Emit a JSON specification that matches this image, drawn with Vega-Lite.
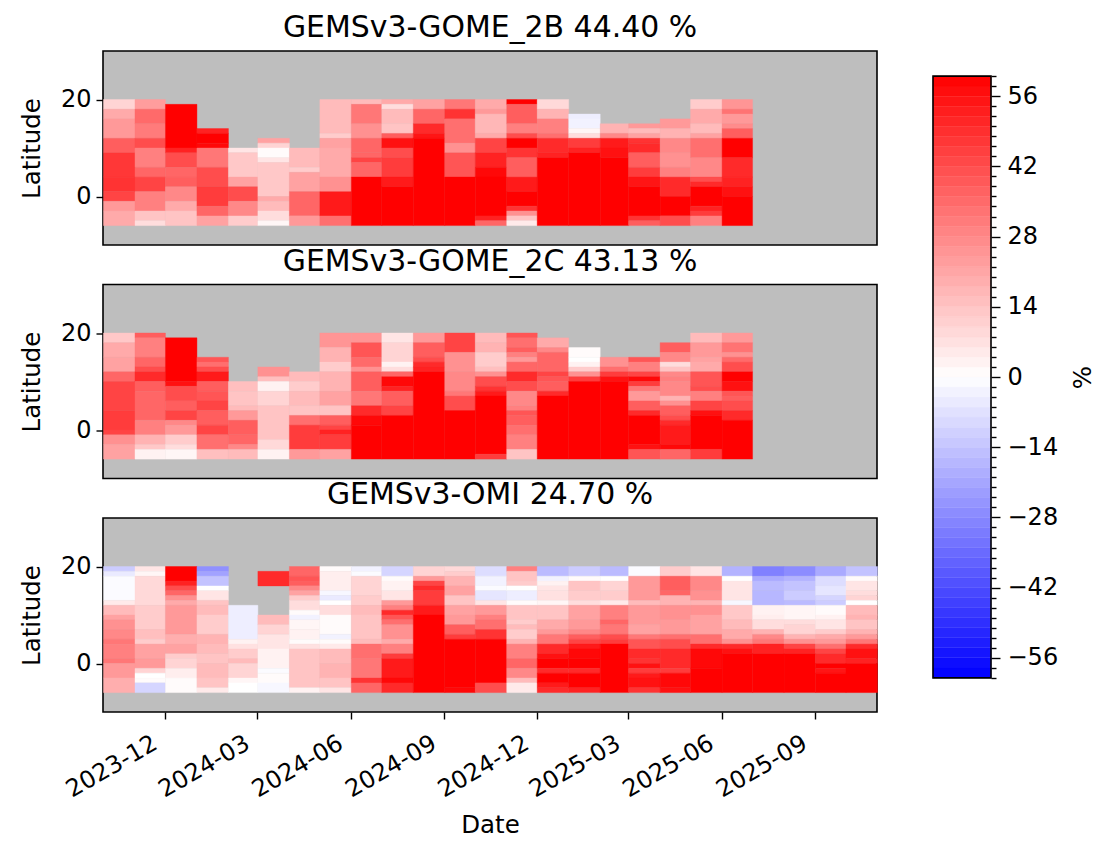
{"$schema":"https://vega.github.io/schema/vega-lite/v6.json","background":"white","padding":{"left":18,"top":12,"right":0,"bottom":0},
"config":{"font":"DejaVu Sans","view":{"fill":"#bebebe","stroke":"#000000","strokeWidth":1.6},"axis":{"grid":false,"domain":false,"labelFont":"DejaVu Sans","titleFont":"DejaVu Sans","labelFontSize":24,"titleFontSize":24.5,"titleFontWeight":"normal","tickColor":"#000","tickWidth":1.4,"tickSize":7,"labelColor":"#000","titleColor":"#000","labelPadding":5,"titlePadding":16},"title":{"font":"DejaVu Sans","fontSize":29.9,"fontWeight":"normal","color":"#000","offset":8}},
"datasets":{
"B":[
{"d":"2023-10","a":18,"b":20,"v":10},{"d":"2023-10","a":16,"b":18,"v":20},{"d":"2023-10","a":12,"b":16,"v":24},{"d":"2023-10","a":9,"b":12,"v":38},{"d":"2023-10","a":4,"b":9,"v":47},{"d":"2023-10","a":1,"b":4,"v":48},{"d":"2023-10","a":-1,"b":1,"v":44},{"d":"2023-10","a":-3,"b":-1,"v":24},{"d":"2023-10","a":-6,"b":-3,"v":20},
{"d":"2023-11","a":18,"b":20,"v":23},{"d":"2023-11","a":15,"b":18,"v":35},{"d":"2023-11","a":12,"b":15,"v":31},{"d":"2023-11","a":10,"b":12,"v":42},{"d":"2023-11","a":6,"b":10,"v":30},{"d":"2023-11","a":4,"b":6,"v":36},{"d":"2023-11","a":1,"b":4,"v":44},{"d":"2023-11","a":-3,"b":1,"v":30},{"d":"2023-11","a":-5,"b":-3,"v":14},{"d":"2023-11","a":-6,"b":-5,"v":8},
{"d":"2023-12","a":10,"b":19,"v":60},{"d":"2023-12","a":9,"b":10,"v":52},{"d":"2023-12","a":6,"b":9,"v":42},{"d":"2023-12","a":4,"b":6,"v":36},{"d":"2023-12","a":2,"b":4,"v":38},{"d":"2023-12","a":-1,"b":2,"v":28},{"d":"2023-12","a":-3,"b":-1,"v":20},{"d":"2023-12","a":-6,"b":-3,"v":14},
{"d":"2024-01","a":13,"b":14,"v":52},{"d":"2024-01","a":11,"b":13,"v":60},{"d":"2024-01","a":10,"b":11,"v":58},{"d":"2024-01","a":6,"b":10,"v":32},{"d":"2024-01","a":2,"b":6,"v":42},{"d":"2024-01","a":-2,"b":2,"v":46},{"d":"2024-01","a":-4,"b":-2,"v":36},{"d":"2024-01","a":-6,"b":-4,"v":22},
{"d":"2024-02","a":9,"b":10,"v":6},{"d":"2024-02","a":4,"b":9,"v":13},{"d":"2024-02","a":2,"b":4,"v":22},{"d":"2024-02","a":-1,"b":2,"v":42},{"d":"2024-02","a":-4,"b":-1,"v":28},{"d":"2024-02","a":-6,"b":-4,"v":12},
{"d":"2024-03","a":11,"b":12,"v":22},{"d":"2024-03","a":10,"b":11,"v":10},{"d":"2024-03","a":8,"b":10,"v":1},{"d":"2024-03","a":7,"b":8,"v":6},{"d":"2024-03","a":0,"b":7,"v":13},{"d":"2024-03","a":-1,"b":0,"v":20},{"d":"2024-03","a":-3,"b":-1,"v":16},{"d":"2024-03","a":-5,"b":-3,"v":8},{"d":"2024-03","a":-6,"b":-5,"v":2},
{"d":"2024-04","a":6,"b":10,"v":16},{"d":"2024-04","a":5,"b":6,"v":12},{"d":"2024-04","a":1,"b":5,"v":22},{"d":"2024-04","a":-4,"b":1,"v":36},{"d":"2024-04","a":-6,"b":-4,"v":24},
{"d":"2024-05","a":13,"b":20,"v":16},{"d":"2024-05","a":12,"b":13,"v":12},{"d":"2024-05","a":10,"b":12,"v":22},{"d":"2024-05","a":4,"b":10,"v":20},{"d":"2024-05","a":1,"b":4,"v":26},{"d":"2024-05","a":-4,"b":1,"v":54},{"d":"2024-05","a":-6,"b":-4,"v":34},
{"d":"2024-06","a":19,"b":20,"v":16},{"d":"2024-06","a":15,"b":19,"v":32},{"d":"2024-06","a":12,"b":15,"v":26},{"d":"2024-06","a":9,"b":12,"v":36},{"d":"2024-06","a":8,"b":9,"v":36},{"d":"2024-06","a":7,"b":8,"v":44},{"d":"2024-06","a":4,"b":7,"v":36},{"d":"2024-06","a":-6,"b":4,"v":60},
{"d":"2024-07","a":19,"b":20,"v":20},{"d":"2024-07","a":18,"b":19,"v":8},{"d":"2024-07","a":15,"b":18,"v":16},{"d":"2024-07","a":13,"b":15,"v":14},{"d":"2024-07","a":12,"b":13,"v":38},{"d":"2024-07","a":10,"b":12,"v":56},{"d":"2024-07","a":8,"b":10,"v":42},{"d":"2024-07","a":4,"b":8,"v":46},{"d":"2024-07","a":2,"b":4,"v":54},{"d":"2024-07","a":-6,"b":2,"v":60},
{"d":"2024-08","a":18,"b":20,"v":22},{"d":"2024-08","a":15,"b":18,"v":36},{"d":"2024-08","a":13,"b":15,"v":50},{"d":"2024-08","a":12,"b":13,"v":55},{"d":"2024-08","a":-6,"b":12,"v":60},
{"d":"2024-09","a":18,"b":20,"v":32},{"d":"2024-09","a":16,"b":18,"v":48},{"d":"2024-09","a":11,"b":16,"v":34},{"d":"2024-09","a":9,"b":11,"v":26},{"d":"2024-09","a":4,"b":9,"v":40},{"d":"2024-09","a":-6,"b":4,"v":60},
{"d":"2024-10","a":18,"b":20,"v":20},{"d":"2024-10","a":17,"b":18,"v":24},{"d":"2024-10","a":13,"b":17,"v":17},{"d":"2024-10","a":12,"b":13,"v":20},{"d":"2024-10","a":9,"b":12,"v":44},{"d":"2024-10","a":6,"b":9,"v":52},{"d":"2024-10","a":4,"b":6,"v":58},{"d":"2024-10","a":-4,"b":4,"v":60},{"d":"2024-10","a":-5,"b":-4,"v":52},{"d":"2024-10","a":-6,"b":-5,"v":36},
{"d":"2024-11","a":19,"b":20,"v":60},{"d":"2024-11","a":15,"b":19,"v":38},{"d":"2024-11","a":13,"b":15,"v":30},{"d":"2024-11","a":12,"b":13,"v":42},{"d":"2024-11","a":10,"b":12,"v":60},{"d":"2024-11","a":8,"b":10,"v":48},{"d":"2024-11","a":4,"b":8,"v":38},{"d":"2024-11","a":1,"b":4,"v":54},{"d":"2024-11","a":-2,"b":1,"v":60},{"d":"2024-11","a":-3,"b":-2,"v":48},{"d":"2024-11","a":-4,"b":-3,"v":26},{"d":"2024-11","a":-5,"b":-4,"v":14},{"d":"2024-11","a":-6,"b":-5,"v":5},
{"d":"2024-12","a":18,"b":20,"v":9},{"d":"2024-12","a":16,"b":18,"v":18},{"d":"2024-12","a":13,"b":16,"v":30},{"d":"2024-12","a":12,"b":13,"v":34},{"d":"2024-12","a":9,"b":12,"v":50},{"d":"2024-12","a":8,"b":9,"v":52},{"d":"2024-12","a":-6,"b":8,"v":60},
{"d":"2025-01","a":16,"b":17,"v":-4},{"d":"2025-01","a":14,"b":16,"v":-3},{"d":"2025-01","a":13,"b":14,"v":2},{"d":"2025-01","a":12,"b":13,"v":8},{"d":"2025-01","a":10,"b":12,"v":46},{"d":"2025-01","a":9,"b":10,"v":52},{"d":"2025-01","a":-6,"b":9,"v":60},
{"d":"2025-02","a":13,"b":15,"v":18},{"d":"2025-02","a":12,"b":13,"v":28},{"d":"2025-02","a":10,"b":12,"v":54},{"d":"2025-02","a":8,"b":10,"v":56},{"d":"2025-02","a":-6,"b":8,"v":60},
{"d":"2025-03","a":14,"b":15,"v":24},{"d":"2025-03","a":13,"b":14,"v":16},{"d":"2025-03","a":12,"b":13,"v":22},{"d":"2025-03","a":11,"b":12,"v":48},{"d":"2025-03","a":9,"b":11,"v":50},{"d":"2025-03","a":6,"b":9,"v":38},{"d":"2025-03","a":4,"b":6,"v":46},{"d":"2025-03","a":2,"b":4,"v":55},{"d":"2025-03","a":-4,"b":2,"v":60},{"d":"2025-03","a":-5,"b":-4,"v":48},{"d":"2025-03","a":-6,"b":-5,"v":38},
{"d":"2025-04","a":14,"b":16,"v":24},{"d":"2025-04","a":12,"b":14,"v":18},{"d":"2025-04","a":9,"b":12,"v":28},{"d":"2025-04","a":6,"b":9,"v":26},{"d":"2025-04","a":4,"b":6,"v":30},{"d":"2025-04","a":0,"b":4,"v":50},{"d":"2025-04","a":-4,"b":0,"v":60},{"d":"2025-04","a":-6,"b":-4,"v":42},
{"d":"2025-05","a":18,"b":20,"v":12},{"d":"2025-05","a":15,"b":18,"v":20},{"d":"2025-05","a":13,"b":15,"v":16},{"d":"2025-05","a":12,"b":13,"v":22},{"d":"2025-05","a":8,"b":12,"v":34},{"d":"2025-05","a":4,"b":8,"v":28},{"d":"2025-05","a":3,"b":4,"v":42},{"d":"2025-05","a":2,"b":3,"v":50},{"d":"2025-05","a":-2,"b":2,"v":60},{"d":"2025-05","a":-3,"b":-2,"v":52},{"d":"2025-05","a":-4,"b":-3,"v":46},{"d":"2025-05","a":-6,"b":-4,"v":30},
{"d":"2025-06","a":18,"b":20,"v":25},{"d":"2025-06","a":17,"b":18,"v":33},{"d":"2025-06","a":15,"b":17,"v":24},{"d":"2025-06","a":14,"b":15,"v":27},{"d":"2025-06","a":12,"b":14,"v":38},{"d":"2025-06","a":8,"b":12,"v":60},{"d":"2025-06","a":4,"b":8,"v":50},{"d":"2025-06","a":2,"b":4,"v":52},{"d":"2025-06","a":0,"b":2,"v":56},{"d":"2025-06","a":-6,"b":0,"v":60}],
"C":[
{"d":"2023-10","a":18,"b":20,"v":13},{"d":"2023-10","a":15,"b":18,"v":20},{"d":"2023-10","a":12,"b":15,"v":22},{"d":"2023-10","a":10,"b":12,"v":36},{"d":"2023-10","a":4,"b":10,"v":44},{"d":"2023-10","a":0,"b":4,"v":46},{"d":"2023-10","a":-1,"b":0,"v":44},{"d":"2023-10","a":-3,"b":-1,"v":26},{"d":"2023-10","a":-6,"b":-3,"v":22},
{"d":"2023-11","a":19,"b":20,"v":38},{"d":"2023-11","a":15,"b":19,"v":30},{"d":"2023-11","a":13,"b":15,"v":36},{"d":"2023-11","a":12,"b":13,"v":42},{"d":"2023-11","a":10,"b":12,"v":50},{"d":"2023-11","a":8,"b":10,"v":38},{"d":"2023-11","a":2,"b":8,"v":36},{"d":"2023-11","a":-1,"b":2,"v":30},{"d":"2023-11","a":-3,"b":-1,"v":18},{"d":"2023-11","a":-4,"b":-3,"v":13},{"d":"2023-11","a":-6,"b":-4,"v":3},
{"d":"2023-12","a":10,"b":19,"v":60},{"d":"2023-12","a":9,"b":10,"v":56},{"d":"2023-12","a":6,"b":9,"v":42},{"d":"2023-12","a":4,"b":6,"v":38},{"d":"2023-12","a":2,"b":4,"v":44},{"d":"2023-12","a":1,"b":2,"v":28},{"d":"2023-12","a":-1,"b":1,"v":24},{"d":"2023-12","a":-3,"b":-1,"v":12},{"d":"2023-12","a":-4,"b":-3,"v":8},{"d":"2023-12","a":-6,"b":-4,"v":2},
{"d":"2024-01","a":14,"b":15,"v":40},{"d":"2024-01","a":13,"b":14,"v":34},{"d":"2024-01","a":12,"b":13,"v":42},{"d":"2024-01","a":10,"b":12,"v":54},{"d":"2024-01","a":8,"b":10,"v":38},{"d":"2024-01","a":6,"b":8,"v":40},{"d":"2024-01","a":4,"b":6,"v":44},{"d":"2024-01","a":1,"b":4,"v":38},{"d":"2024-01","a":-1,"b":1,"v":44},{"d":"2024-01","a":-4,"b":-1,"v":34},{"d":"2024-01","a":-6,"b":-4,"v":15},
{"d":"2024-02","a":8,"b":10,"v":15},{"d":"2024-02","a":5,"b":8,"v":14},{"d":"2024-02","a":4,"b":5,"v":16},{"d":"2024-02","a":2,"b":4,"v":24},{"d":"2024-02","a":-1,"b":2,"v":38},{"d":"2024-02","a":-3,"b":-1,"v":36},{"d":"2024-02","a":-4,"b":-3,"v":28},{"d":"2024-02","a":-6,"b":-4,"v":16},
{"d":"2024-03","a":11,"b":13,"v":26},{"d":"2024-03","a":10,"b":11,"v":15},{"d":"2024-03","a":8,"b":10,"v":3},{"d":"2024-03","a":5,"b":8,"v":10},{"d":"2024-03","a":-2,"b":5,"v":14},{"d":"2024-03","a":-4,"b":-2,"v":9},{"d":"2024-03","a":-6,"b":-4,"v":3},
{"d":"2024-04","a":10,"b":12,"v":16},{"d":"2024-04","a":8,"b":10,"v":12},{"d":"2024-04","a":5,"b":8,"v":16},{"d":"2024-04","a":3,"b":5,"v":14},{"d":"2024-04","a":1,"b":3,"v":34},{"d":"2024-04","a":-4,"b":1,"v":46},{"d":"2024-04","a":-6,"b":-4,"v":24},
{"d":"2024-05","a":17,"b":20,"v":25},{"d":"2024-05","a":14,"b":17,"v":18},{"d":"2024-05","a":12,"b":14,"v":12},{"d":"2024-05","a":8,"b":12,"v":18},{"d":"2024-05","a":5,"b":8,"v":22},{"d":"2024-05","a":3,"b":5,"v":14},{"d":"2024-05","a":1,"b":3,"v":38},{"d":"2024-05","a":0,"b":1,"v":44},{"d":"2024-05","a":-1,"b":0,"v":52},{"d":"2024-05","a":-4,"b":-1,"v":46},{"d":"2024-05","a":-6,"b":-4,"v":22},
{"d":"2024-06","a":18,"b":20,"v":25},{"d":"2024-06","a":15,"b":18,"v":40},{"d":"2024-06","a":13,"b":15,"v":35},{"d":"2024-06","a":12,"b":13,"v":26},{"d":"2024-06","a":8,"b":12,"v":38},{"d":"2024-06","a":5,"b":8,"v":32},{"d":"2024-06","a":3,"b":5,"v":50},{"d":"2024-06","a":1,"b":3,"v":58},{"d":"2024-06","a":-6,"b":1,"v":60},
{"d":"2024-07","a":18,"b":20,"v":6},{"d":"2024-07","a":14,"b":18,"v":10},{"d":"2024-07","a":13,"b":14,"v":3},{"d":"2024-07","a":12,"b":13,"v":8},{"d":"2024-07","a":11,"b":12,"v":36},{"d":"2024-07","a":9,"b":11,"v":58},{"d":"2024-07","a":8,"b":9,"v":52},{"d":"2024-07","a":5,"b":8,"v":38},{"d":"2024-07","a":3,"b":5,"v":44},{"d":"2024-07","a":-6,"b":3,"v":60},
{"d":"2024-08","a":18,"b":20,"v":24},{"d":"2024-08","a":15,"b":18,"v":38},{"d":"2024-08","a":14,"b":15,"v":42},{"d":"2024-08","a":13,"b":14,"v":50},{"d":"2024-08","a":12,"b":13,"v":52},{"d":"2024-08","a":-6,"b":12,"v":60},
{"d":"2024-09","a":16,"b":20,"v":44},{"d":"2024-09","a":12,"b":16,"v":26},{"d":"2024-09","a":8,"b":12,"v":28},{"d":"2024-09","a":7,"b":8,"v":32},{"d":"2024-09","a":4,"b":7,"v":42},{"d":"2024-09","a":-6,"b":4,"v":60},
{"d":"2024-10","a":18,"b":20,"v":16},{"d":"2024-10","a":16,"b":18,"v":18},{"d":"2024-10","a":13,"b":16,"v":12},{"d":"2024-10","a":12,"b":13,"v":15},{"d":"2024-10","a":11,"b":12,"v":26},{"d":"2024-10","a":9,"b":11,"v":42},{"d":"2024-10","a":8,"b":9,"v":48},{"d":"2024-10","a":7,"b":8,"v":54},{"d":"2024-10","a":-5,"b":7,"v":60},{"d":"2024-10","a":-6,"b":-5,"v":46},
{"d":"2024-11","a":19,"b":20,"v":40},{"d":"2024-11","a":17,"b":19,"v":34},{"d":"2024-11","a":16,"b":17,"v":38},{"d":"2024-11","a":15,"b":16,"v":30},{"d":"2024-11","a":14,"b":15,"v":24},{"d":"2024-11","a":12,"b":14,"v":36},{"d":"2024-11","a":10,"b":12,"v":50},{"d":"2024-11","a":8,"b":10,"v":42},{"d":"2024-11","a":5,"b":8,"v":28},{"d":"2024-11","a":4,"b":5,"v":30},{"d":"2024-11","a":3,"b":4,"v":40},{"d":"2024-11","a":1,"b":3,"v":38},{"d":"2024-11","a":-1,"b":1,"v":34},{"d":"2024-11","a":-4,"b":-1,"v":30},{"d":"2024-11","a":-6,"b":-4,"v":14},
{"d":"2024-12","a":17,"b":19,"v":20},{"d":"2024-12","a":16,"b":17,"v":28},{"d":"2024-12","a":12,"b":16,"v":36},{"d":"2024-12","a":11,"b":12,"v":44},{"d":"2024-12","a":10,"b":11,"v":40},{"d":"2024-12","a":8,"b":10,"v":38},{"d":"2024-12","a":7,"b":8,"v":50},{"d":"2024-12","a":-6,"b":7,"v":60},
{"d":"2025-01","a":15,"b":17,"v":1},{"d":"2025-01","a":14,"b":15,"v":0},{"d":"2025-01","a":13,"b":14,"v":3},{"d":"2025-01","a":12,"b":13,"v":12},{"d":"2025-01","a":11,"b":12,"v":26},{"d":"2025-01","a":10,"b":11,"v":46},{"d":"2025-01","a":-6,"b":10,"v":60},
{"d":"2025-02","a":13,"b":15,"v":26},{"d":"2025-02","a":12,"b":13,"v":34},{"d":"2025-02","a":11,"b":12,"v":46},{"d":"2025-02","a":10,"b":11,"v":56},{"d":"2025-02","a":-6,"b":10,"v":60},
{"d":"2025-03","a":14,"b":15,"v":40},{"d":"2025-03","a":12,"b":14,"v":30},{"d":"2025-03","a":11,"b":12,"v":44},{"d":"2025-03","a":10,"b":11,"v":58},{"d":"2025-03","a":9,"b":10,"v":46},{"d":"2025-03","a":8,"b":9,"v":32},{"d":"2025-03","a":6,"b":8,"v":24},{"d":"2025-03","a":4,"b":6,"v":38},{"d":"2025-03","a":3,"b":4,"v":50},{"d":"2025-03","a":-3,"b":3,"v":60},{"d":"2025-03","a":-4,"b":-3,"v":56},{"d":"2025-03","a":-6,"b":-4,"v":40},
{"d":"2025-04","a":16,"b":18,"v":38},{"d":"2025-04","a":14,"b":16,"v":28},{"d":"2025-04","a":13,"b":14,"v":8},{"d":"2025-04","a":12,"b":13,"v":14},{"d":"2025-04","a":11,"b":12,"v":28},{"d":"2025-04","a":10,"b":11,"v":30},{"d":"2025-04","a":7,"b":10,"v":28},{"d":"2025-04","a":6,"b":7,"v":18},{"d":"2025-04","a":5,"b":6,"v":26},{"d":"2025-04","a":3,"b":5,"v":38},{"d":"2025-04","a":2,"b":3,"v":42},{"d":"2025-04","a":1,"b":2,"v":50},{"d":"2025-04","a":-3,"b":1,"v":54},{"d":"2025-04","a":-4,"b":-3,"v":58},{"d":"2025-04","a":-6,"b":-4,"v":36},
{"d":"2025-05","a":18,"b":20,"v":16},{"d":"2025-05","a":15,"b":18,"v":24},{"d":"2025-05","a":14,"b":15,"v":22},{"d":"2025-05","a":12,"b":14,"v":20},{"d":"2025-05","a":9,"b":12,"v":40},{"d":"2025-05","a":8,"b":9,"v":42},{"d":"2025-05","a":6,"b":8,"v":30},{"d":"2025-05","a":4,"b":6,"v":44},{"d":"2025-05","a":3,"b":4,"v":56},{"d":"2025-05","a":-4,"b":3,"v":60},{"d":"2025-05","a":-6,"b":-4,"v":46},
{"d":"2025-06","a":18,"b":20,"v":24},{"d":"2025-06","a":16,"b":18,"v":33},{"d":"2025-06","a":15,"b":16,"v":26},{"d":"2025-06","a":14,"b":15,"v":35},{"d":"2025-06","a":12,"b":14,"v":42},{"d":"2025-06","a":10,"b":12,"v":60},{"d":"2025-06","a":8,"b":10,"v":56},{"d":"2025-06","a":7,"b":8,"v":40},{"d":"2025-06","a":6,"b":7,"v":38},{"d":"2025-06","a":4,"b":6,"v":42},{"d":"2025-06","a":2,"b":4,"v":50},{"d":"2025-06","a":-6,"b":2,"v":60}],
"O":[
{"d":"2023-10","a":19,"b":20,"v":-12},{"d":"2023-10","a":18,"b":19,"v":-5},{"d":"2023-10","a":13,"b":18,"v":-1},{"d":"2023-10","a":12,"b":13,"v":5},{"d":"2023-10","a":10,"b":12,"v":16},{"d":"2023-10","a":9,"b":10,"v":22},{"d":"2023-10","a":7,"b":9,"v":26},{"d":"2023-10","a":5,"b":7,"v":28},{"d":"2023-10","a":4,"b":5,"v":32},{"d":"2023-10","a":1,"b":4,"v":30},{"d":"2023-10","a":0,"b":1,"v":32},{"d":"2023-10","a":-3,"b":0,"v":24},{"d":"2023-10","a":-6,"b":-3,"v":19},
{"d":"2023-11","a":19,"b":20,"v":6},{"d":"2023-11","a":18,"b":19,"v":2},{"d":"2023-11","a":12,"b":18,"v":9},{"d":"2023-11","a":7,"b":12,"v":12},{"d":"2023-11","a":5,"b":7,"v":15},{"d":"2023-11","a":4,"b":5,"v":12},{"d":"2023-11","a":1,"b":4,"v":22},{"d":"2023-11","a":-1,"b":1,"v":24},{"d":"2023-11","a":-2,"b":-1,"v":10},{"d":"2023-11","a":-3,"b":-2,"v":0},{"d":"2023-11","a":-4,"b":-3,"v":1},{"d":"2023-11","a":-6,"b":-4,"v":-10},
{"d":"2023-12","a":17,"b":20,"v":60},{"d":"2023-12","a":16,"b":17,"v":52},{"d":"2023-12","a":15,"b":16,"v":42},{"d":"2023-12","a":14,"b":15,"v":36},{"d":"2023-12","a":13,"b":14,"v":26},{"d":"2023-12","a":12,"b":13,"v":20},{"d":"2023-12","a":6,"b":12,"v":24},{"d":"2023-12","a":4,"b":6,"v":19},{"d":"2023-12","a":2,"b":4,"v":22},{"d":"2023-12","a":1,"b":2,"v":12},{"d":"2023-12","a":-1,"b":1,"v":10},{"d":"2023-12","a":-3,"b":-1,"v":4},{"d":"2023-12","a":-6,"b":-3,"v":1},
{"d":"2024-01","a":19,"b":20,"v":-26},{"d":"2024-01","a":18,"b":19,"v":-22},{"d":"2024-01","a":16,"b":18,"v":-14},{"d":"2024-01","a":15,"b":16,"v":0},{"d":"2024-01","a":13,"b":15,"v":6},{"d":"2024-01","a":12,"b":13,"v":14},{"d":"2024-01","a":10,"b":12,"v":16},{"d":"2024-01","a":6,"b":10,"v":12},{"d":"2024-01","a":4,"b":6,"v":18},{"d":"2024-01","a":2,"b":4,"v":16},{"d":"2024-01","a":0,"b":2,"v":14},{"d":"2024-01","a":-3,"b":0,"v":16},{"d":"2024-01","a":-5,"b":-3,"v":14},{"d":"2024-01","a":-6,"b":-5,"v":5},
{"d":"2024-02","a":5,"b":12,"v":-4},{"d":"2024-02","a":4,"b":5,"v":3},{"d":"2024-02","a":3,"b":4,"v":7},{"d":"2024-02","a":1,"b":3,"v":12},{"d":"2024-02","a":0,"b":1,"v":16},{"d":"2024-02","a":-3,"b":0,"v":10},{"d":"2024-02","a":-4,"b":-3,"v":2},{"d":"2024-02","a":-6,"b":-4,"v":0},
{"d":"2024-03","a":16,"b":19,"v":50},{"d":"2024-03","a":8,"b":10,"v":16},{"d":"2024-03","a":6,"b":8,"v":10},{"d":"2024-03","a":3,"b":6,"v":6},{"d":"2024-03","a":-1,"b":3,"v":3},{"d":"2024-03","a":-2,"b":-1,"v":-1},{"d":"2024-03","a":-4,"b":-2,"v":1},{"d":"2024-03","a":-6,"b":-4,"v":-2},
{"d":"2024-04","a":18,"b":20,"v":36},{"d":"2024-04","a":17,"b":18,"v":40},{"d":"2024-04","a":16,"b":17,"v":38},{"d":"2024-04","a":15,"b":16,"v":28},{"d":"2024-04","a":14,"b":15,"v":22},{"d":"2024-04","a":13,"b":14,"v":12},{"d":"2024-04","a":11,"b":13,"v":8},{"d":"2024-04","a":10,"b":11,"v":1},{"d":"2024-04","a":9,"b":10,"v":-3},{"d":"2024-04","a":7,"b":9,"v":2},{"d":"2024-04","a":5,"b":7,"v":3},{"d":"2024-04","a":4,"b":5,"v":1},{"d":"2024-04","a":3,"b":4,"v":7},{"d":"2024-04","a":-5,"b":3,"v":14},{"d":"2024-04","a":-6,"b":-5,"v":3},
{"d":"2024-05","a":19,"b":20,"v":1},{"d":"2024-05","a":15,"b":19,"v":4},{"d":"2024-05","a":14,"b":15,"v":-2},{"d":"2024-05","a":13,"b":14,"v":-5},{"d":"2024-05","a":12,"b":13,"v":0},{"d":"2024-05","a":10,"b":12,"v":8},{"d":"2024-05","a":6,"b":10,"v":1},{"d":"2024-05","a":5,"b":6,"v":-3},{"d":"2024-05","a":4,"b":5,"v":1},{"d":"2024-05","a":3,"b":4,"v":5},{"d":"2024-05","a":0,"b":3,"v":16},{"d":"2024-05","a":-3,"b":0,"v":18},{"d":"2024-05","a":-5,"b":-3,"v":14},{"d":"2024-05","a":-6,"b":-5,"v":6},
{"d":"2024-06","a":19,"b":20,"v":-3},{"d":"2024-06","a":18,"b":19,"v":-1},{"d":"2024-06","a":14,"b":18,"v":10},{"d":"2024-06","a":12,"b":14,"v":12},{"d":"2024-06","a":10,"b":12,"v":16},{"d":"2024-06","a":5,"b":10,"v":14},{"d":"2024-06","a":4,"b":5,"v":16},{"d":"2024-06","a":1,"b":4,"v":34},{"d":"2024-06","a":-3,"b":1,"v":32},{"d":"2024-06","a":-4,"b":-3,"v":48},{"d":"2024-06","a":-6,"b":-4,"v":36},
{"d":"2024-07","a":18,"b":20,"v":-10},{"d":"2024-07","a":17,"b":18,"v":1},{"d":"2024-07","a":15,"b":17,"v":3},{"d":"2024-07","a":13,"b":15,"v":6},{"d":"2024-07","a":12,"b":13,"v":24},{"d":"2024-07","a":11,"b":12,"v":30},{"d":"2024-07","a":10,"b":11,"v":50},{"d":"2024-07","a":9,"b":10,"v":40},{"d":"2024-07","a":8,"b":9,"v":34},{"d":"2024-07","a":5,"b":8,"v":26},{"d":"2024-07","a":4,"b":5,"v":20},{"d":"2024-07","a":2,"b":4,"v":30},{"d":"2024-07","a":1,"b":2,"v":46},{"d":"2024-07","a":-3,"b":1,"v":54},{"d":"2024-07","a":-4,"b":-3,"v":58},{"d":"2024-07","a":-6,"b":-4,"v":50},
{"d":"2024-08","a":18,"b":20,"v":10},{"d":"2024-08","a":17,"b":18,"v":24},{"d":"2024-08","a":16,"b":17,"v":44},{"d":"2024-08","a":15,"b":16,"v":50},{"d":"2024-08","a":12,"b":15,"v":46},{"d":"2024-08","a":10,"b":12,"v":54},{"d":"2024-08","a":-6,"b":10,"v":60},
{"d":"2024-09","a":19,"b":20,"v":9},{"d":"2024-09","a":18,"b":19,"v":12},{"d":"2024-09","a":16,"b":18,"v":18},{"d":"2024-09","a":14,"b":16,"v":22},{"d":"2024-09","a":12,"b":14,"v":14},{"d":"2024-09","a":10,"b":12,"v":22},{"d":"2024-09","a":8,"b":10,"v":24},{"d":"2024-09","a":6,"b":8,"v":38},{"d":"2024-09","a":5,"b":6,"v":46},{"d":"2024-09","a":-5,"b":5,"v":60},{"d":"2024-09","a":-6,"b":-5,"v":58},
{"d":"2024-10","a":18,"b":20,"v":-8},{"d":"2024-10","a":16,"b":18,"v":-3},{"d":"2024-10","a":15,"b":16,"v":-1},{"d":"2024-10","a":13,"b":15,"v":-6},{"d":"2024-10","a":12,"b":13,"v":6},{"d":"2024-10","a":10,"b":12,"v":24},{"d":"2024-10","a":9,"b":10,"v":30},{"d":"2024-10","a":7,"b":9,"v":34},{"d":"2024-10","a":5,"b":7,"v":48},{"d":"2024-10","a":-4,"b":5,"v":60},{"d":"2024-10","a":-6,"b":-4,"v":42},
{"d":"2024-11","a":19,"b":20,"v":30},{"d":"2024-11","a":17,"b":19,"v":14},{"d":"2024-11","a":16,"b":17,"v":12},{"d":"2024-11","a":15,"b":16,"v":0},{"d":"2024-11","a":13,"b":15,"v":-4},{"d":"2024-11","a":12,"b":13,"v":1},{"d":"2024-11","a":9,"b":12,"v":14},{"d":"2024-11","a":8,"b":9,"v":12},{"d":"2024-11","a":7,"b":8,"v":16},{"d":"2024-11","a":5,"b":7,"v":12},{"d":"2024-11","a":4,"b":5,"v":18},{"d":"2024-11","a":1,"b":4,"v":30},{"d":"2024-11","a":-1,"b":1,"v":36},{"d":"2024-11","a":-3,"b":-1,"v":28},{"d":"2024-11","a":-4,"b":-3,"v":16},{"d":"2024-11","a":-6,"b":-4,"v":5},
{"d":"2024-12","a":18,"b":20,"v":-16},{"d":"2024-12","a":17,"b":18,"v":-3},{"d":"2024-12","a":16,"b":17,"v":3},{"d":"2024-12","a":15,"b":16,"v":6},{"d":"2024-12","a":13,"b":15,"v":7},{"d":"2024-12","a":12,"b":13,"v":2},{"d":"2024-12","a":9,"b":12,"v":14},{"d":"2024-12","a":7,"b":9,"v":20},{"d":"2024-12","a":6,"b":7,"v":24},{"d":"2024-12","a":4,"b":6,"v":32},{"d":"2024-12","a":2,"b":4,"v":50},{"d":"2024-12","a":1,"b":2,"v":56},{"d":"2024-12","a":-1,"b":1,"v":60},{"d":"2024-12","a":-2,"b":-1,"v":50},{"d":"2024-12","a":-4,"b":-2,"v":60},{"d":"2024-12","a":-5,"b":-4,"v":54},{"d":"2024-12","a":-6,"b":-5,"v":50},
{"d":"2025-01","a":18,"b":20,"v":-12},{"d":"2025-01","a":17,"b":18,"v":1},{"d":"2025-01","a":15,"b":17,"v":14},{"d":"2025-01","a":13,"b":15,"v":12},{"d":"2025-01","a":12,"b":13,"v":8},{"d":"2025-01","a":9,"b":12,"v":22},{"d":"2025-01","a":7,"b":9,"v":24},{"d":"2025-01","a":6,"b":7,"v":28},{"d":"2025-01","a":5,"b":6,"v":38},{"d":"2025-01","a":4,"b":5,"v":44},{"d":"2025-01","a":3,"b":4,"v":54},{"d":"2025-01","a":1,"b":3,"v":58},{"d":"2025-01","a":-1,"b":1,"v":60},{"d":"2025-01","a":-2,"b":-1,"v":50},{"d":"2025-01","a":-5,"b":-2,"v":60},{"d":"2025-01","a":-6,"b":-5,"v":52},
{"d":"2025-02","a":18,"b":20,"v":-16},{"d":"2025-02","a":17,"b":18,"v":0},{"d":"2025-02","a":15,"b":17,"v":10},{"d":"2025-02","a":13,"b":15,"v":12},{"d":"2025-02","a":12,"b":13,"v":5},{"d":"2025-02","a":9,"b":12,"v":30},{"d":"2025-02","a":8,"b":9,"v":36},{"d":"2025-02","a":6,"b":8,"v":32},{"d":"2025-02","a":5,"b":6,"v":42},{"d":"2025-02","a":4,"b":5,"v":46},{"d":"2025-02","a":-6,"b":4,"v":60},
{"d":"2025-03","a":18,"b":20,"v":-1},{"d":"2025-03","a":13,"b":18,"v":24},{"d":"2025-03","a":12,"b":13,"v":16},{"d":"2025-03","a":8,"b":12,"v":24},{"d":"2025-03","a":6,"b":8,"v":22},{"d":"2025-03","a":5,"b":6,"v":32},{"d":"2025-03","a":3,"b":5,"v":40},{"d":"2025-03","a":1,"b":3,"v":50},{"d":"2025-03","a":0,"b":1,"v":48},{"d":"2025-03","a":-1,"b":0,"v":56},{"d":"2025-03","a":-2,"b":-1,"v":46},{"d":"2025-03","a":-3,"b":-2,"v":54},{"d":"2025-03","a":-5,"b":-3,"v":56},{"d":"2025-03","a":-6,"b":-5,"v":48},
{"d":"2025-04","a":18,"b":20,"v":12},{"d":"2025-04","a":15,"b":18,"v":38},{"d":"2025-04","a":14,"b":15,"v":36},{"d":"2025-04","a":12,"b":14,"v":18},{"d":"2025-04","a":9,"b":12,"v":26},{"d":"2025-04","a":6,"b":9,"v":24},{"d":"2025-04","a":5,"b":6,"v":34},{"d":"2025-04","a":3,"b":5,"v":42},{"d":"2025-04","a":-1,"b":3,"v":50},{"d":"2025-04","a":-2,"b":-1,"v":46},{"d":"2025-04","a":-5,"b":-2,"v":58},{"d":"2025-04","a":-6,"b":-5,"v":56},
{"d":"2025-05","a":18,"b":20,"v":6},{"d":"2025-05","a":15,"b":18,"v":28},{"d":"2025-05","a":13,"b":15,"v":26},{"d":"2025-05","a":12,"b":13,"v":18},{"d":"2025-05","a":10,"b":12,"v":26},{"d":"2025-05","a":6,"b":10,"v":22},{"d":"2025-05","a":4,"b":6,"v":34},{"d":"2025-05","a":3,"b":4,"v":50},{"d":"2025-05","a":-1,"b":3,"v":58},{"d":"2025-05","a":-6,"b":-1,"v":60},
{"d":"2025-06","a":18,"b":20,"v":-18},{"d":"2025-06","a":17,"b":18,"v":0},{"d":"2025-06","a":13,"b":17,"v":6},{"d":"2025-06","a":12,"b":13,"v":-2},{"d":"2025-06","a":9,"b":12,"v":13},{"d":"2025-06","a":7,"b":9,"v":16},{"d":"2025-06","a":5,"b":7,"v":20},{"d":"2025-06","a":4,"b":5,"v":26},{"d":"2025-06","a":3,"b":4,"v":50},{"d":"2025-06","a":2,"b":3,"v":56},{"d":"2025-06","a":-6,"b":2,"v":60},
{"d":"2025-07","a":18,"b":20,"v":-30},{"d":"2025-07","a":17,"b":18,"v":-20},{"d":"2025-07","a":15,"b":17,"v":-16},{"d":"2025-07","a":12,"b":15,"v":-17},{"d":"2025-07","a":10,"b":12,"v":3},{"d":"2025-07","a":9,"b":10,"v":4},{"d":"2025-07","a":7,"b":9,"v":8},{"d":"2025-07","a":6,"b":7,"v":18},{"d":"2025-07","a":5,"b":6,"v":28},{"d":"2025-07","a":4,"b":5,"v":32},{"d":"2025-07","a":2,"b":4,"v":52},{"d":"2025-07","a":-6,"b":2,"v":60},
{"d":"2025-08","a":18,"b":20,"v":-27},{"d":"2025-08","a":17,"b":18,"v":-18},{"d":"2025-08","a":15,"b":17,"v":-14},{"d":"2025-08","a":13,"b":15,"v":-12},{"d":"2025-08","a":12,"b":13,"v":-16},{"d":"2025-08","a":9,"b":12,"v":2},{"d":"2025-08","a":8,"b":9,"v":8},{"d":"2025-08","a":6,"b":8,"v":10},{"d":"2025-08","a":5,"b":6,"v":18},{"d":"2025-08","a":4,"b":5,"v":26},{"d":"2025-08","a":3,"b":4,"v":44},{"d":"2025-08","a":2,"b":3,"v":52},{"d":"2025-08","a":-6,"b":2,"v":60},
{"d":"2025-09","a":18,"b":20,"v":-20},{"d":"2025-09","a":16,"b":18,"v":-8},{"d":"2025-09","a":14,"b":16,"v":-6},{"d":"2025-09","a":13,"b":14,"v":-10},{"d":"2025-09","a":12,"b":13,"v":-12},{"d":"2025-09","a":10,"b":12,"v":1},{"d":"2025-09","a":9,"b":10,"v":3},{"d":"2025-09","a":7,"b":9,"v":6},{"d":"2025-09","a":6,"b":7,"v":12},{"d":"2025-09","a":5,"b":6,"v":20},{"d":"2025-09","a":4,"b":5,"v":24},{"d":"2025-09","a":3,"b":4,"v":34},{"d":"2025-09","a":2,"b":3,"v":44},{"d":"2025-09","a":0,"b":2,"v":50},{"d":"2025-09","a":-1,"b":0,"v":60},{"d":"2025-09","a":-2,"b":-1,"v":55},{"d":"2025-09","a":-6,"b":-2,"v":60},
{"d":"2025-10","a":18,"b":20,"v":-14},{"d":"2025-10","a":17,"b":18,"v":1},{"d":"2025-10","a":15,"b":17,"v":6},{"d":"2025-10","a":14,"b":15,"v":8},{"d":"2025-10","a":13,"b":14,"v":10},{"d":"2025-10","a":12,"b":13,"v":0},{"d":"2025-10","a":10,"b":12,"v":16},{"d":"2025-10","a":9,"b":10,"v":18},{"d":"2025-10","a":7,"b":9,"v":14},{"d":"2025-10","a":6,"b":7,"v":18},{"d":"2025-10","a":5,"b":6,"v":24},{"d":"2025-10","a":4,"b":5,"v":32},{"d":"2025-10","a":3,"b":4,"v":50},{"d":"2025-10","a":1,"b":3,"v":56},{"d":"2025-10","a":0,"b":1,"v":52},{"d":"2025-10","a":-6,"b":0,"v":60}],
"bar":[{"a":-60,"b":-58,"v":-59},{"a":-58,"b":-56,"v":-57},{"a":-56,"b":-54,"v":-55},{"a":-54,"b":-52,"v":-53},{"a":-52,"b":-50,"v":-51},{"a":-50,"b":-48,"v":-49},{"a":-48,"b":-46,"v":-47},{"a":-46,"b":-44,"v":-45},{"a":-44,"b":-42,"v":-43},{"a":-42,"b":-40,"v":-41},{"a":-40,"b":-38,"v":-39},{"a":-38,"b":-36,"v":-37},{"a":-36,"b":-34,"v":-35},{"a":-34,"b":-32,"v":-33},{"a":-32,"b":-30,"v":-31},{"a":-30,"b":-28,"v":-29},{"a":-28,"b":-26,"v":-27},{"a":-26,"b":-24,"v":-25},{"a":-24,"b":-22,"v":-23},{"a":-22,"b":-20,"v":-21},{"a":-20,"b":-18,"v":-19},{"a":-18,"b":-16,"v":-17},{"a":-16,"b":-14,"v":-15},{"a":-14,"b":-12,"v":-13},{"a":-12,"b":-10,"v":-11},{"a":-10,"b":-8,"v":-9},{"a":-8,"b":-6,"v":-7},{"a":-6,"b":-4,"v":-5},{"a":-4,"b":-2,"v":-3},{"a":-2,"b":0,"v":-1},{"a":0,"b":2,"v":1},{"a":2,"b":4,"v":3},{"a":4,"b":6,"v":5},{"a":6,"b":8,"v":7},{"a":8,"b":10,"v":9},{"a":10,"b":12,"v":11},{"a":12,"b":14,"v":13},{"a":14,"b":16,"v":15},{"a":16,"b":18,"v":17},{"a":18,"b":20,"v":19},{"a":20,"b":22,"v":21},{"a":22,"b":24,"v":23},{"a":24,"b":26,"v":25},{"a":26,"b":28,"v":27},{"a":28,"b":30,"v":29},{"a":30,"b":32,"v":31},{"a":32,"b":34,"v":33},{"a":34,"b":36,"v":35},{"a":36,"b":38,"v":37},{"a":38,"b":40,"v":39},{"a":40,"b":42,"v":41},{"a":42,"b":44,"v":43},{"a":44,"b":46,"v":45},{"a":46,"b":48,"v":47},{"a":48,"b":50,"v":49},{"a":50,"b":52,"v":51},{"a":52,"b":54,"v":53},{"a":54,"b":56,"v":55},{"a":56,"b":58,"v":57},{"a":58,"b":60,"v":59}],
"frame":[{"a":-60,"b":60}]},
"hconcat":[{"spacing":-0.5,"vconcat":[
{"title":"GEMSv3-GOME_2B 44.40 %","width":774,"height":194,"data":{"name":"B"},"mark":{"type":"rect","strokeWidth":0.4},"encoding":{"x":{"field":"d","type":"temporal","timeUnit":"utcyearmonth","scale":{"domain":["2023-10-01","2025-11-01"]},"axis":null},"y":{"field":"a","type":"quantitative","scale":{"domain":[-10,30]},"axis":{"values":[0,20],"title":"Latitude"}},"y2":{"field":"b"},"color":{"field":"v","type":"quantitative","legend":null,"scale":{"domain":[-60,0,60],"range":["#0000ff","#ffffff","#ff0000"],"interpolate":"rgb","clamp":true}},"stroke":{"field":"v","type":"quantitative","legend":null,"scale":{"domain":[-60,0,60],"range":["#0000ff","#ffffff","#ff0000"],"interpolate":"rgb","clamp":true}}}},
{"title":"GEMSv3-GOME_2C 43.13 %","width":774,"height":194,"data":{"name":"C"},"mark":{"type":"rect","strokeWidth":0.4},"encoding":{"x":{"field":"d","type":"temporal","timeUnit":"utcyearmonth","scale":{"domain":["2023-10-01","2025-11-01"]},"axis":null},"y":{"field":"a","type":"quantitative","scale":{"domain":[-10,30]},"axis":{"values":[0,20],"title":"Latitude"}},"y2":{"field":"b"},"color":{"field":"v","type":"quantitative","legend":null,"scale":{"domain":[-60,0,60],"range":["#0000ff","#ffffff","#ff0000"],"interpolate":"rgb","clamp":true}},"stroke":{"field":"v","type":"quantitative","legend":null,"scale":{"domain":[-60,0,60],"range":["#0000ff","#ffffff","#ff0000"],"interpolate":"rgb","clamp":true}}}},
{"title":"GEMSv3-OMI 24.70 %","width":774,"height":194,"data":{"name":"O"},"mark":{"type":"rect","strokeWidth":0.4},"encoding":{"x":{"field":"d","type":"temporal","timeUnit":"utcyearmonth","scale":{"domain":["2023-10-01","2025-11-01"]},"axis":{"values":["2023-12-01","2024-03-01","2024-06-01","2024-09-01","2024-12-01","2025-03-01","2025-06-01","2025-09-01"],"format":"%Y-%m","labelAngle":-30,"labelAlign":"right","labelBaseline":"top","title":"Date","titlePadding":12,"labelPadding":12,"labelOffset":-16,"labelOverlap":false}},"y":{"field":"a","type":"quantitative","scale":{"domain":[-10,30]},"axis":{"values":[0,20],"title":"Latitude"}},"y2":{"field":"b"},"color":{"field":"v","type":"quantitative","legend":null,"scale":{"domain":[-60,0,60],"range":["#0000ff","#ffffff","#ff0000"],"interpolate":"rgb","clamp":true}},"stroke":{"field":"v","type":"quantitative","legend":null,"scale":{"domain":[-60,0,60],"range":["#0000ff","#ffffff","#ff0000"],"interpolate":"rgb","clamp":true}}}}
]},
{"width":58,"height":652,"view":{"fill":null,"stroke":null},"layer":[
{"data":{"name":"bar"},"mark":{"type":"rect","strokeWidth":0.4},"encoding":{"y":{"field":"a","type":"quantitative","scale":{"domain":[-65,65],"nice":false},"axis":{"orient":"right","title":"%","titlePadding":38,"titleAngle":270,"labelPadding":7,"values":[-60,-58,-56,-54,-52,-50,-48,-46,-44,-42,-40,-38,-36,-34,-32,-30,-28,-26,-24,-22,-20,-18,-16,-14,-12,-10,-8,-6,-4,-2,0,2,4,6,8,10,12,14,16,18,20,22,24,26,28,30,32,34,36,38,40,42,44,46,48,50,52,54,56,58,60],"labelExpr":"datum.value%14===0?replace(datum.label,'-','−'):''","labelOverlap":false,"tickSize":{"condition":{"test":"datum.value%14===0","value":9},"value":5}}},"y2":{"field":"b"},"color":{"field":"v","type":"quantitative","legend":null,"scale":{"domain":[-60,0,60],"range":["#0000ff","#ffffff","#ff0000"],"interpolate":"rgb","clamp":true}},"stroke":{"field":"v","type":"quantitative","legend":null,"scale":{"domain":[-60,0,60],"range":["#0000ff","#ffffff","#ff0000"],"interpolate":"rgb","clamp":true}}}},
{"data":{"name":"frame"},"mark":{"type":"rect","fill":null,"stroke":"#000000","strokeWidth":1.6},"encoding":{"y":{"field":"a","type":"quantitative","scale":{"domain":[-65,65],"nice":false},"axis":{"orient":"right","title":"%","titlePadding":38,"titleAngle":270,"labelPadding":7,"values":[-60,-58,-56,-54,-52,-50,-48,-46,-44,-42,-40,-38,-36,-34,-32,-30,-28,-26,-24,-22,-20,-18,-16,-14,-12,-10,-8,-6,-4,-2,0,2,4,6,8,10,12,14,16,18,20,22,24,26,28,30,32,34,36,38,40,42,44,46,48,50,52,54,56,58,60],"labelExpr":"datum.value%14===0?replace(datum.label,'-','−'):''","labelOverlap":false,"tickSize":{"condition":{"test":"datum.value%14===0","value":9},"value":5}}},"y2":{"field":"b"}}}
]}
],"spacing":53}
